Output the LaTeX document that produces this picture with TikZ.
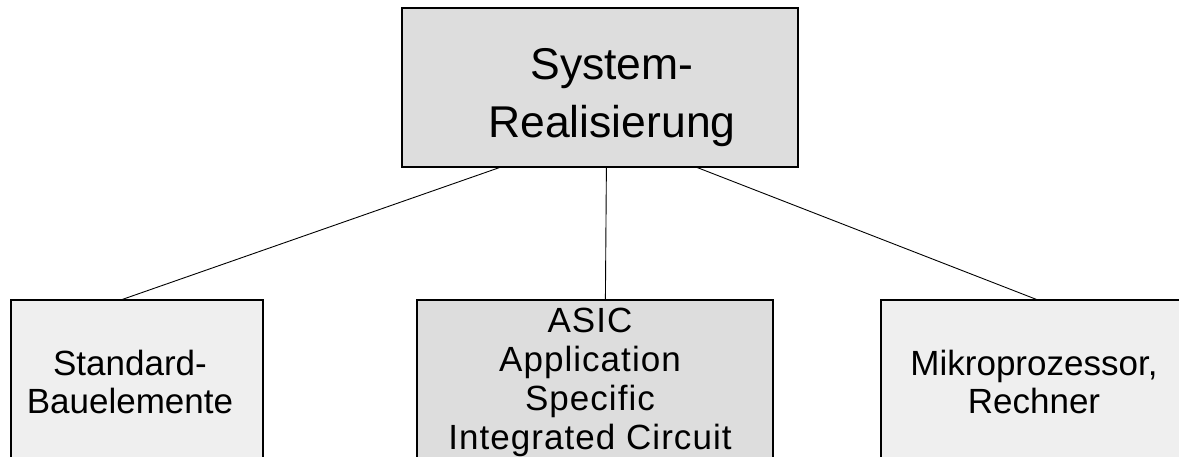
\documentclass[tikz,border=0pt]{standalone}
\usepackage{fontspec}
\setmainfont{Liberation Sans}
\newfontfamily\trackedfont[LetterSpace=3]{Liberation Sans}
\definecolor{boxdark}{HTML}{DDDDDD}
\definecolor{boxlight}{HTML}{EFEFEF}
\begin{document}
\begin{tikzpicture}[x=1pt,y=-1pt,
  box/.style={draw=black, line width=1.2pt, inner sep=0pt},
  link/.style={draw=black, line width=0.9pt},
  bigtext/.style={align=center, inner sep=0pt, font=\fontsize{44.5}{58}\selectfont},
  smalltext/.style={align=center, inner sep=0pt, font=\fontsize{35}{38}\selectfont},
  asictext/.style={align=center, inner sep=0pt, font=\trackedfont\fontsize{35}{39}\selectfont}]
\useasboundingbox (0,0) rectangle (1179,456);
\clip (0,0) rectangle (1179,456);

% boxes
\node[box, fill=boxdark, minimum width=396pt, minimum height=159pt] (top) at (600,87.5) {};
\node[box, fill=boxlight, minimum width=252pt, minimum height=200pt] (leftbox) at (137,400) {};
\node[box, fill=boxdark, minimum width=356pt, minimum height=200pt] (midbox) at (595,400) {};
\node[box, fill=boxlight, minimum width=320pt, minimum height=200pt] (rightbox) at (1041,400) {};

% connectors between the boxes
\draw[link] ([xshift=98pt]top.south west) -- ([xshift=112pt]leftbox.north west);
\draw[link] ([xshift=205pt]top.south west) -- ([xshift=189pt]midbox.north west);
\draw[link] ([xshift=296pt]top.south west) -- ([xshift=156pt]rightbox.north west);

% labels (base anchor sits on the last line)
\node[bigtext, anchor=base] (toplabel) at (612,137) {System-\\Realisierung};
\node[smalltext, anchor=base] (leftlabel) at (130,413) {Standard-\\Bauelemente};
\node[asictext, anchor=base] (midlabel) at (590,449) {ASIC\\Application\\Specific\\Integrated Circuit};
\node[smalltext, anchor=base] (rightlabel) at (1034,413) {Mikroprozessor,\\Rechner};
\end{tikzpicture}
\end{document}
